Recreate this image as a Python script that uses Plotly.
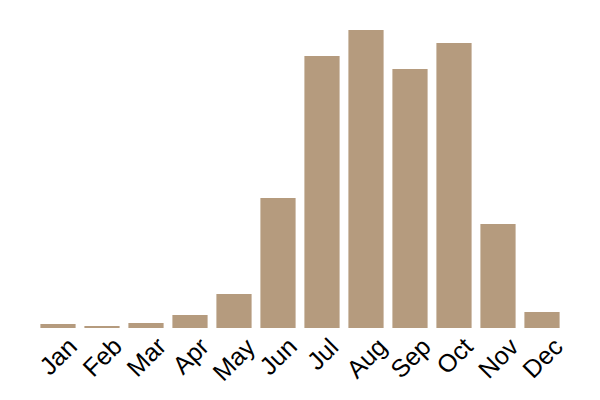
import plotly.graph_objects as go

# monthly values
months = ["Jan", "Feb", "Mar", "Apr", "May", "Jun", "Jul", "Aug", "Sep", "Oct", "Nov", "Dec"]
values = [4, 2, 5, 13, 34, 130, 272, 298, 259, 285, 104, 16]

fig = go.Figure()
fig.add_trace(go.Bar(x=months, y=values, marker_color="#b59b7e", marker_line_width=0))

# labels centred under each bar, rotated, hanging from just under the axis
for m in months:
    fig.add_annotation(x=m, y=-0.005, xref="x", yref="paper", text=m, showarrow=False,
                       textangle=-45, xanchor="center", yanchor="top",
                       font=dict(size=25, color="black"))

# page body adds 8px, margins are shifted to compensate
fig.update_layout(width=600, height=400,
                  margin=dict(l=28, r=44, t=22, b=80),
                  bargap=0.2,
                  plot_bgcolor="white",
                  paper_bgcolor="white",
                  showlegend=False,
                  font=dict(family="Liberation Sans, Arial, sans-serif", color="black"))
fig.update_xaxes(showticklabels=False, showgrid=False, showline=False, ticks="",
                 range=[-0.5, len(months) - 0.5])
fig.update_yaxes(visible=False, range=[0, 298], showgrid=False)

fig.write_html("out.html")
